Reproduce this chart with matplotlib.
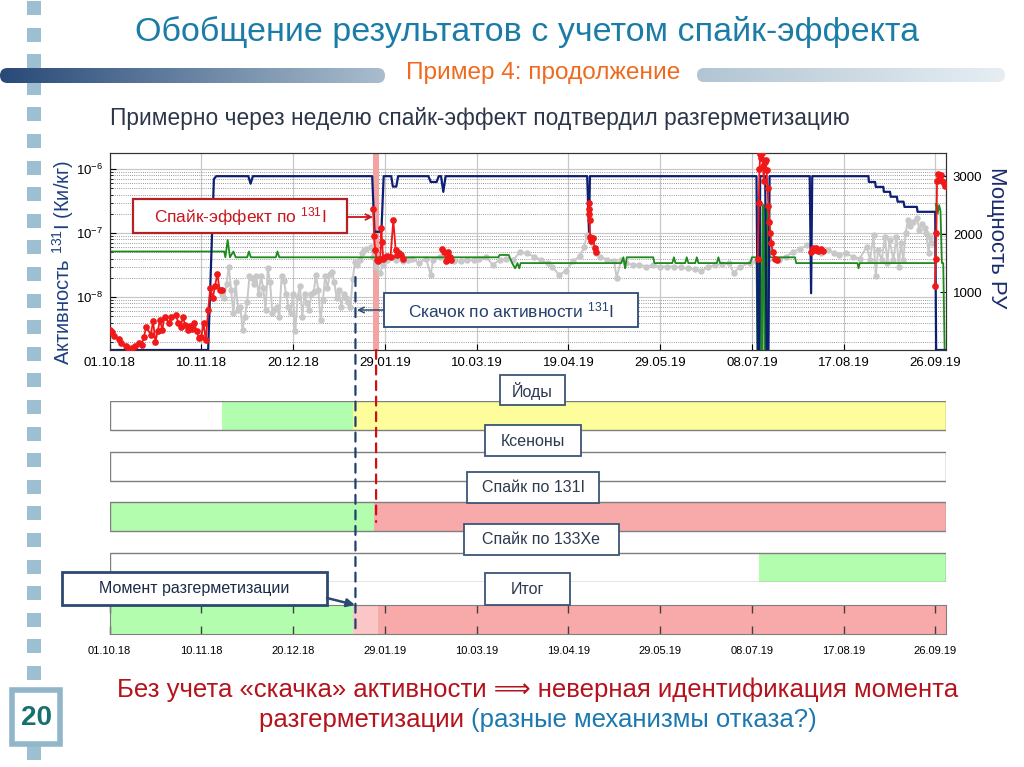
import numpy as np
import pandas as pd
import matplotlib
matplotlib.use('Agg')
import matplotlib.pyplot as plt
import matplotlib.dates as mdates
from matplotlib.patches import Rectangle, FancyBboxPatch, ConnectionPatch
from matplotlib.colors import LinearSegmentedColormap
from matplotlib.ticker import LogLocator, NullFormatter

plt.rcParams['font.family'] = ['Liberation Sans', 'DejaVu Sans']
plt.rcParams['mathtext.fontset'] = 'custom'
plt.rcParams['mathtext.rm'] = 'Liberation Sans'
plt.rcParams['mathtext.it'] = 'Liberation Sans:italic'
plt.rcParams['mathtext.bf'] = 'Liberation Sans:bold'

# ---------------- data (days counted from 01.10.18) ----------------
start = '2018-10-01'
end_day = 364.6
tick_labels = ['01.10.18', '10.11.18', '20.12.18', '29.01.19', '10.03.19',
               '19.04.19', '29.05.19', '08.07.19', '17.08.19', '26.09.19']

# iodine-131 activity, Ci/kg (grey = background, red = spike events)
grey_day = [49, 50, 51, 52, 53, 54, 55, 56, 57, 58,
            59, 60, 61, 62, 63, 64, 65, 66, 67, 68,
            69, 70, 71, 72, 73, 74, 75, 76, 77, 78,
            79, 80, 81, 82, 83, 84, 85, 86, 87, 88,
            89, 90, 91, 92, 93, 94, 95, 96, 97, 98,
            99, 100, 101, 102, 103, 104, 105, 106, 107, 108,
            109, 110, 111, 112, 114, 115, 116, 118, 119, 121,
            122, 125, 128, 130, 132, 135, 138, 140, 141, 144,
            147, 150, 153, 156, 159, 161, 164, 167, 170, 173,
            176, 179, 182, 185, 188, 191, 193, 196, 199, 202,
            205, 207, 208, 212, 214, 217, 220, 221, 223, 225,
            228, 231, 234, 237, 240, 243, 246, 249, 252, 255,
            258, 261, 264, 267, 270, 272, 275, 279, 282, 292,
            295, 298, 301, 304, 307, 310, 313, 316, 318, 321,
            324, 327, 330, 331.5, 333, 334, 335, 336.6, 338, 339,
            340, 341.7, 343, 344, 345, 346, 347, 348, 349, 350,
            352, 353, 354, 355.5, 356, 357, 357.7, 358.4]
grey_val = [1.1e-8, 9.5e-9, 1.6e-8, 3.0e-8, 1.3e-8, 5.6e-9, 1.7e-8, 6.3e-9, 7.1e-9, 3.1e-9,
            4.9e-9, 8.5e-9, 2.1e-8, 2.0e-8, 1.6e-8, 2.1e-8, 1.1e-8, 2.1e-8, 1.4e-8, 6.3e-9,
            2.8e-8, 1.7e-8, 5.6e-9, 6.5e-9, 7.1e-9, 4.9e-9, 2.1e-8, 1.8e-8, 1.1e-8, 7.1e-9,
            5.6e-9, 1.1e-8, 2.9e-9, 1.0e-8, 1.5e-8, 4.9e-9, 1.1e-8, 8.0e-9, 6.3e-9, 1.1e-8,
            1.2e-8, 2.2e-8, 1.3e-8, 4.4e-9, 9.0e-9, 2.1e-8, 1.4e-8, 2.3e-8, 2.5e-8, 1.7e-8,
            9.5e-9, 1.3e-8, 7.1e-9, 1.1e-8, 9.5e-9, 8.5e-9, 7.1e-9, 1.9e-8, 3.5e-8, 3.2e-8,
            3.8e-8, 4.8e-8, 5.4e-8, 5.7e-8, 6.1e-8, 4.2e-8, 3.0e-8, 2.4e-8, 3.2e-8, 3.8e-8,
            4.3e-8, 3.8e-8, 3.6e-8, 3.8e-8, 4.0e-8, 3.4e-8, 4.0e-8, 2.2e-8, 3.8e-8, 4.3e-8,
            3.8e-8, 3.6e-8, 3.6e-8, 3.8e-8, 3.8e-8, 3.9e-8, 4.3e-8, 3.2e-8, 3.8e-8, 4.0e-8,
            3.8e-8, 5.1e-8, 4.8e-8, 4.3e-8, 3.8e-8, 3.4e-8, 3.0e-8, 2.2e-8, 2.6e-8, 3.6e-8,
            4.4e-8, 6.1e-8, 9.3e-8, 4.8e-8, 4.3e-8, 3.8e-8, 3.6e-8, 2.0e-8, 3.8e-8, 3.4e-8,
            3.2e-8, 3.2e-8, 3.0e-8, 3.2e-8, 3.0e-8, 3.0e-8, 3.0e-8, 2.9e-8, 2.8e-8, 2.7e-8,
            2.6e-8, 2.9e-8, 3.2e-8, 3.3e-8, 3.4e-8, 2.4e-8, 3.0e-8, 3.4e-8, 3.6e-8, 3.8e-8,
            4.3e-8, 5.1e-8, 5.7e-8, 6.4e-8, 5.4e-8, 4.8e-8, 5.4e-8, 4.8e-8, 4.5e-8, 4.8e-8,
            4.3e-8, 4.0e-8, 6.1e-8, 3.8e-8, 9.3e-8, 2.1e-8, 5.4e-8, 3.8e-8, 8.8e-8, 3.4e-8,
            7.8e-8, 3.8e-8, 8.8e-8, 3.0e-8, 6.9e-8, 3.8e-8, 9.9e-8, 1.6e-7, 1.3e-7, 1.5e-7,
            1.7e-7, 1.1e-7, 1.4e-7, 1.2e-7, 9.9e-8, 4.8e-8, 8.8e-8, 6.9e-8]

red_oct_day = [0, 1, 2, 4, 5, 7, 8, 10, 11, 13, 14, 15, 16, 18, 19, 20, 21, 22, 23, 24,
               26, 27, 29, 30, 31, 32, 33, 34, 35, 36, 37, 38, 39, 40, 41, 42, 43, 44, 45, 46,
               47, 48, 49]
red_oct_val = [3.1e-9, 2.8e-9, 2.5e-9, 2.2e-9, 1.9e-9, 1.7e-9, 1.6e-9, 1.6e-9, 1.7e-9, 1.9e-9,
               1.8e-9, 2.4e-9, 3.4e-9, 2.6e-9, 4.2e-9, 2.0e-9, 2.9e-9, 4.4e-9, 3.1e-9, 4.9e-9,
               3.9e-9, 4.9e-9, 5.2e-9, 3.9e-9, 3.4e-9, 4.9e-9, 3.6e-9, 3.1e-9, 3.5e-9, 3.2e-9,
               3.9e-9, 2.9e-9, 2.3e-9, 2.4e-9, 3.9e-9, 2.1e-9, 6.3e-9, 1.4e-8, 9.5e-9, 1.5e-8,
               2.3e-8, 1.3e-8, 1.3e-8]
red_jan_day = [115.0, 115.3, 115.8, 116.5, 117.2, 118.0, 118.5, 118.8, 119.3, 120.0,
               121.0, 122.5, 123.7, 124.7, 125.5, 126.2, 127.0, 128.0]
red_jan_val = [2.4e-7, 9.0e-8, 5.5e-8, 3.8e-8, 3.6e-8, 4.0e-8, 1.2e-7, 7.3e-8, 4.0e-8, 4.2e-8,
               4.4e-8, 4.3e-8, 1.6e-7, 5.5e-8, 4.6e-8, 4.8e-8, 4.5e-8, 4.0e-8]
red_feb_day = [145.0, 146.0, 146.8, 147.5, 148.2, 149.0]
red_feb_val = [5.6e-8, 5.1e-8, 3.7e-8, 5.0e-8, 4.3e-8, 3.8e-8]
red_apr_day = [208.8, 209.0, 209.1, 209.3, 209.5, 210.0, 210.8, 211.5, 212.0]
red_apr_val = [3.0e-7, 2.4e-7, 2.0e-7, 1.6e-7, 8.7e-8, 7.5e-8, 8.4e-8, 5.8e-8, 5.0e-8]
red_jul_day = [282.5, 283.0, 283.3, 283.7, 284.0, 284.4, 284.8, 285.2, 285.6, 286.0,
               286.4, 286.8, 287.2, 287.6, 288.0, 288.5, 289.0, 290.0, 291.0]
red_jul_val = [4.0e-8, 3.0e-7, 1.0e-6, 1.7e-6, 1.5e-6, 1.75e-6, 1.1e-6, 6.5e-7, 1.3e-6, 1.4e-6,
               9.5e-7, 5.0e-7, 2.6e-7, 1.5e-7, 1.0e-7, 7.0e-8, 5.0e-8, 4.0e-8, 3.8e-8]
red_aug_day = [305.8, 306.5, 307.2, 308.0, 309.0, 310.0, 311.0]
red_aug_val = [5.0e-8, 5.8e-8, 5.4e-8, 5.8e-8, 5.2e-8, 5.6e-8, 5.3e-8]
red_sep_day = [359.8, 360.1, 360.4, 360.7, 361.2, 361.7, 362.3, 363.0, 363.7, 364.3]
red_sep_val = [1.5e-8, 4.0e-8, 1.0e-7, 6.5e-7, 8.5e-7, 7.0e-7, 8.0e-7, 6.5e-7, 6.0e-7, 5.5e-7]

# reactor power, MW (right axis)
pow_day = [0, 43, 45.5, 46.5, 60.5, 61.5, 62.5, 114.5, 115.5, 118.5,
           119.5, 122.8, 123.5, 125, 125.8, 139, 140, 142.6, 143.5, 144.5,
           145.5, 146.5, 208.2, 209, 209.4, 282, 282.6, 283.2, 283.6, 285.8,
           286.4, 287.2, 287.7, 305.2, 305.8, 306.3, 330.8, 331, 333.7, 334,
           337.3, 337.5, 340.2, 340.5, 343.2, 343.5, 346.1, 346.5, 351.9, 352.2,
           359.9, 360.3, 364.6]
pow_val = [0, 0, 2950, 3000, 3000, 2870, 3000, 3000, 2040, 2040,
           3000, 3000, 2820, 2820, 3000, 3000, 2900, 2900, 3000, 3000,
           2730, 3000, 3000, 2040, 3000, 3000, 0, 0, 3000, 3000,
           0, 0, 3000, 3000, 980, 3000, 3000, 2900, 2900, 2815,
           2815, 2730, 2730, 2645, 2645, 2560, 2560, 2470, 2470, 2385,
           2385, 0, 0]

# second process parameter (green, right axis)
green_day = [0, 50, 50.5, 51.5, 52.5, 54, 55, 60, 60.8, 61.6,
             72.5, 73.2, 74, 169.5, 170, 174, 175.5, 176.8, 177.8, 178.6,
             179.2, 223, 224, 224.7, 225.5, 237, 237.5, 245.3, 246, 246.7,
             250.9, 251.6, 252.3, 255.3, 256, 256.7, 264.7, 265.4, 266.1, 279.3,
             280, 282, 282.4, 282.9, 283.2, 283.7, 284, 284.5, 284.8, 285.2,
             285.5, 285.9, 286.2, 286.6, 286.9, 287.1, 287.3, 287.8, 298.8, 299.3,
             326, 326.5, 327, 360, 360.4, 361, 361.6, 362.2, 362.8, 363.4,
             364, 364.6]
green_val = [1700, 1700, 1600, 1900, 1600, 1700, 1600, 1600, 1700, 1600,
             1600, 1700, 1600, 1600, 1640, 1640, 1500, 1410, 1500, 1410,
             1500, 1500, 1600, 1410, 1600, 1600, 1500, 1500, 1600, 1500,
             1500, 1600, 1500, 1500, 1600, 1500, 1500, 1600, 1500, 1500,
             1600, 1600, 0, 0, 2500, 2500, 0, 0, 2500, 2500,
             0, 0, 2450, 2450, 0, 0, 2385, 1600, 1600, 1500,
             1500, 1410, 1500, 1500, 2530, 2360, 2500, 2400, 1500, 1500,
             0, 0]

jump_day = 107.2     # jump of 131I activity
spike_day = 116.2    # 131I spike
spike_band = [115.0, 117.5]

# diagnosis timeline rows
row_labels = ['Йоды', 'Ксеноны', 'Спайк по 131I', 'Спайк по 133Xe', 'Итог']
iodine_edges = [0, 49, 106, end_day]
iodine_state = ['none', 'ok', 'warn']
xenon_edges = [0, end_day]
xenon_state = ['none']
spike_i_edges = [0, 115.5, end_day]
spike_i_state = ['ok', 'leak']
spike_xe_edges = [0, 283, end_day]
spike_xe_state = ['none', 'ok']
total_edges = [0, 106, 117, end_day]
total_state = ['ok', 'early', 'leak']

state_color = {'none': 'white', 'ok': '#b3fdae', 'warn': '#fdfd9c',
               'leak': '#f8aaaa', 'early': '#fbc6c6'}

t0 = mdates.date2num(pd.Timestamp(start))


def X(days):
    return t0 + np.asarray(days, dtype=float)


W, H = 1024, 767


def fr(x0, y0, x1, y1):
    return [x0 / W, 1 - y1 / H, (x1 - x0) / W, (y1 - y0) / H]


fig = plt.figure(figsize=(10.24, 7.67), dpi=100)

# ---------------- slide decoration ----------------
bg = fig.add_axes([0, 0, 1, 1], zorder=-5)
for yy in np.arange(1, H, 26.6):
    bg.add_patch(Rectangle((27, yy), 14, 14, color='#9cbfd1', lw=0))
grad = np.linspace(0, 1, 256)[None, :]
bars = [((0, 68, 385, 15), ['#284a78', '#a9bdcd']),
        ((697, 68, 308, 14), ['#b2c5d3', '#e6eef3'])]
for (bx, by, bw, bh), cols in bars:
    cm = LinearSegmentedColormap.from_list('g', cols)
    im = bg.imshow(grad, cmap=cm, extent=(bx, bx + bw, by + bh, by), aspect='auto', zorder=2)
    clip = FancyBboxPatch((bx, by), bw, bh, boxstyle='round,pad=0,rounding_size=%g' % (bh / 2),
                          fc='none', ec='none')
    bg.add_patch(clip)
    im.set_clip_path(clip)
bg.add_patch(Rectangle((12, 690), 48, 54, fc='white', ec='#91b6ca', lw=4, zorder=3))
bg.text(36, 718, '20', ha='center', va='center', fontsize=20, fontweight='bold', color='#17706e', zorder=4)
bg.set_xlim(0, W)
bg.set_ylim(H, 0)
bg.axis('off')

bg.text(527, 32, 'Обобщение результатов с учетом спайк-эффекта', ha='center', va='center',
        fontsize=24.5, color='#1b7da7')
bg.text(543, 73, 'Пример 4: продолжение', ha='center', va='center', fontsize=17.6, color='#f06a1e')
bg.text(480, 118, 'Примерно через неделю спайк-эффект подтвердил разгерметизацию',
        ha='center', va='center', fontsize=16.4, color='#2c3648')

# ---------------- top chart ----------------
ax = fig.add_axes(fr(109.5, 153, 946, 350))
ax.set_yscale('log')
ax.set_ylim(1.49e-9, 1.78e-6)
ax.set_xlim(X(0), X(end_day))
ax.set_axisbelow(True)
ax.yaxis.set_major_locator(LogLocator(base=10, numticks=10))
ax.yaxis.set_minor_locator(LogLocator(base=10, subs=np.arange(2, 10), numticks=50))
ax.yaxis.set_minor_formatter(NullFormatter())
ax.set_xticks(X(np.arange(len(tick_labels)) * 40))
ax.set_xticklabels(tick_labels)
ax.grid(True, which='major', color='#c8c8c8', lw=0.9, ls='-')
ax.grid(True, which='minor', axis='y', color='#777777', lw=0.6, ls=(0, (1, 1.6)))
ax.tick_params(which='both', direction='in', labelsize=9.5, pad=5)
ax.tick_params(which='major', length=4)
ax.tick_params(which='minor', length=2)
for s in ax.spines.values():
    s.set_color('#333333')
    s.set_linewidth(0.8)

ax.axvspan(X(spike_band[0]), X(spike_band[1]), color='#f4a3a3', lw=0, zorder=1)
ax.plot(X(grey_day), grey_val, '-o', color='#c8c8c8', ms=3.6, lw=1.4, zorder=3)

ax_p = ax.twinx()
ax_p.set_ylim(0, 3400)
ax_p.set_yticks([1000, 2000, 3000])
ax_p.tick_params(direction='in', labelsize=9.5, pad=5, length=4)
for s in ax_p.spines.values():
    s.set_color('#333333')
    s.set_linewidth(0.8)
ax_p.plot(X(green_day), green_val, color='#1e8a1e', lw=1.3)
ax_p.plot(X(pow_day), pow_val, color='#0d1f73', lw=1.6)

ax_r = fig.add_axes(ax.get_position(), sharex=ax, sharey=ax)
ax_r.set_zorder(ax_p.get_zorder() + 1)
ax_r.patch.set_visible(False)
ax_r.axis('off')
for d, v in [(red_oct_day, red_oct_val), (red_jan_day, red_jan_val), (red_feb_day, red_feb_val),
             (red_apr_day, red_apr_val), (red_jul_day, red_jul_val), (red_aug_day, red_aug_val),
             (red_sep_day, red_sep_val)]:
    ax_r.plot(X(d), v, '-o', color='#f01818', ms=3.8, lw=1.3)

fig.text(63 / W, 1 - 262 / H, 'Активность $^{131}$I (Ки/кг)', rotation=90, ha='center', va='center',
         fontsize=14.5, color='#1f4080')
fig.text(997 / W, 1 - 238 / H, 'Мощность РУ', rotation=270, ha='center', va='center',
         fontsize=16, color='#1b2d6b')

# ---------------- timeline rows ----------------
ax_rows = fig.add_axes(fr(109.5, 401, 946, 582))
ax_rows.set_xlim(X(0), X(end_day))
ax_rows.set_ylim(3.286, -0.286)
ax_rows.axis('off')
rows = [(iodine_edges, iodine_state), (xenon_edges, xenon_state),
        (spike_i_edges, spike_i_state), (spike_xe_edges, spike_xe_state)]
for i, (edges, states) in enumerate(rows):
    for a, b, st in zip(edges[:-1], edges[1:], states):
        ax_rows.barh(i, b - a, left=X(a), height=0.572, color=state_color[st], lw=0)
    ax_rows.barh(i, end_day, left=X(0), height=0.572, fill=False, edgecolor='#7f7f7f', lw=1)

ax_res = fig.add_axes(fr(109.5, 605, 946, 634))
ax_res.set_xlim(X(0), X(end_day))
ax_res.set_ylim(-0.5, 0.5)
for a, b, st in zip(total_edges[:-1], total_edges[1:], total_state):
    ax_res.barh(0, b - a, left=X(a), height=1, color=state_color[st], lw=0)
ax_res.set_yticks([])
ax_res.set_xticks(X(np.arange(len(tick_labels)) * 40))
ax_res.set_xticklabels(tick_labels)
ax_res.tick_params(axis='x', direction='in', top=True, length=6, width=1, color='#404040',
                   labelsize=8, pad=9)
for s in ax_res.spines.values():
    s.set_color('#7f7f7f')

# dashed markers linking the chart and the timeline
fig.add_artist(ConnectionPatch(xyA=(X(jump_day), 0.37), coordsA=ax.get_xaxis_transform(),
                               xyB=(X(jump_day), 0.2), coordsB=ax_res.get_xaxis_transform(),
                               color='#1f3f6f', lw=1.6, ls=(0, (4, 3)), zorder=15))
fig.add_artist(ConnectionPatch(xyA=(X(spike_day), 0.0), coordsA=ax.get_xaxis_transform(),
                               xyB=(X(spike_day), 2.1), coordsB=ax_rows.transData,
                               color='#d01010', lw=1.6, ls=(0, (4, 3)), zorder=15))

# ---------------- overlay annotations (pixel coordinates) ----------------
fg = fig.add_axes([0, 0, 1, 1], zorder=20)
fg.set_xlim(0, W)
fg.set_ylim(H, 0)
fg.patch.set_visible(False)
fg.axis('off')

fg.add_patch(Rectangle((133, 199), 214, 34, fc='white', ec='#b22222', lw=1.6))
fg.text(240, 216.5, 'Спайк-эффект по $^{131}$I', ha='center', va='center', fontsize=12.5, color='#c8161d')
fg.annotate('', xy=(373, 217), xytext=(347, 217),
            arrowprops=dict(arrowstyle='->', color='#c8161d', lw=1.3, shrinkA=0, shrinkB=0))

fg.add_patch(Rectangle((384, 293), 254, 34, fc='white', ec='#2b4a72', lw=1.3))
fg.text(511, 310.5, 'Скачок по активности $^{131}$I', ha='center', va='center', fontsize=12.5, color='#24406c')
fg.annotate('', xy=(357, 310), xytext=(384, 310),
            arrowprops=dict(arrowstyle='->', color='#2b4a72', lw=1.1, shrinkA=0, shrinkB=0))

fg.add_patch(Rectangle((62, 572), 265, 33, fc='white', ec='#2b4a72', lw=2))
fg.text(194, 589, 'Момент разгерметизации', ha='center', va='center', fontsize=11.5, color='#1c2c48')
fg.annotate('', xy=(355, 605), xytext=(327, 598),
            arrowprops=dict(arrowstyle='-|>', mutation_scale=12, color='#2b4a72', lw=1.8,
                            shrinkA=0, shrinkB=0))

label_boxes = [(500, 375, 565, 405), (485, 425, 581, 456), (467, 472, 599, 503),
               (464, 524, 619, 555), (485, 573, 570, 605)]
for lab, (x0, y0, x1, y1) in zip(row_labels, label_boxes):
    fg.add_patch(Rectangle((x0, y0), x1 - x0, y1 - y0, fc='white', ec='#3b5577', lw=1.3))
    fg.text((x0 + x1) / 2, (y0 + y1) / 2 + 0.5, lab, ha='center', va='center', fontsize=11.5, color='#2e3a50')

fg.text(538, 690, 'Без учета «скачка» активности ⟹ неверная идентификация момента',
        ha='center', va='center', fontsize=18.5, color='#b5121b')
r = fig.canvas.get_renderer()
p1 = fg.text(0, 720, 'разгерметизации ', ha='left', va='center', fontsize=18.5, color='#b5121b')
p2 = fg.text(0, 720, '(разные механизмы отказа?)', ha='left', va='center', fontsize=18.5, color='#1b78b0')
w1 = p1.get_window_extent(r).width
w2 = p2.get_window_extent(r).width
x_left = 538 - (w1 + w2) / 2
p1.set_x(x_left)
p2.set_x(x_left + w1)

fig.savefig('out.png', dpi=100)
